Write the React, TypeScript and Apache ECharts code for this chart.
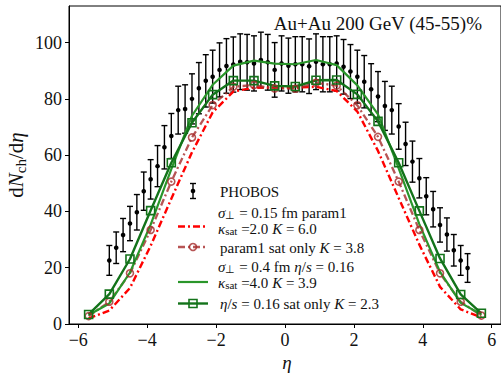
import React, { useEffect, useRef } from "react";
import * as echarts from "echarts";

// PHOBOS data (eta, dN/deta, error)
const PHOBOS_ETA = [
  -5.1, -4.9, -4.7, -4.5, -4.3, -4.1, -3.9, -3.7, -3.5, -3.3, -3.1, -2.9, -2.7, -2.5, -2.3, -2.1, -1.9, -1.7,
  -1.5, -1.3, -1.1, -0.9, -0.7, -0.5, -0.3, -0.1, 0.1, 0.3, 0.5, 0.7, 0.9, 1.1, 1.3, 1.5, 1.7, 1.9, 2.1, 2.3,
  2.5, 2.7, 2.9, 3.1, 3.3, 3.5, 3.7, 3.9, 4.1, 4.3, 4.5, 4.7, 4.9, 5.1, 5.3,
];
const PHOBOS = [
  22.6, 27.1, 31.6, 35.7, 39.7, 47.2, 51.4, 56.1, 62.8, 66.8, 76.0, 76.4, 80.0, 83.8, 86.4, 87.9, 90.3, 91.7,
  92.2, 93.2, 93.0, 92.6, 93.8, 93.0, 90.3, 92.6, 91.8, 92.3, 92.3, 91.6, 93.2, 92.3, 92.3, 92.6, 91.4, 89.7,
  87.9, 86.1, 83.4, 80.8, 77.5, 76.0, 70.2, 64.0, 57.7, 51.8, 45.4, 40.8, 35.2, 31.8, 26.2, 22.6, 19.9,
];
const PHOBOS_ERR = [
  5.3, 5.6, 5.9, 6.1, 6.3, 6.8, 7.0, 7.3, 7.7, 8.0, 8.5, 8.6, 8.9, 9.1, 9.3, 9.4, 9.6, 9.7,
  9.8, 9.9, 9.9, 9.8, 9.9, 9.9, 9.7, 9.8, 9.8, 9.8, 9.8, 9.7, 9.9, 9.8, 9.8, 9.8, 9.7, 9.6,
  9.4, 9.3, 9.1, 8.9, 8.7, 8.5, 8.1, 7.7, 7.3, 7.0, 6.6, 6.3, 6.1, 5.9, 5.6, 5.3, 5.1,
];

// Model curves
const MODEL_ETA = [-5.7, -5.1, -4.5, -3.9, -3.3, -2.7, -2.1, -1.5, -0.9, -0.3, 0.3, 0.9, 1.5, 2.1, 2.7, 3.3, 3.9, 4.5, 5.1, 5.7];
const PARAM1 = [2.0, 4.8, 12.8, 27.8, 44.5, 61.0, 75.2, 82.6, 84.0, 84.0, 84.0, 84.3, 82.8, 75.5, 61.5, 44.8, 28.2, 13.2, 5.2, 2.3];
const PARAM1_SAT = [2.8, 7.9, 18.0, 33.4, 50.6, 66.3, 77.8, 84.3, 84.9, 83.7, 83.6, 85.7, 84.7, 77.7, 66.5, 50.6, 33.4, 18.0, 7.9, 3.0];
const ETAS = [3.2, 7.3, 18.3, 35.3, 55.0, 74.0, 85.0, 91.8, 93.6, 92.5, 92.3, 93.8, 92.0, 84.8, 74.5, 55.3, 35.5, 18.5, 7.5, 3.4];
const ETAS_SAT = [3.4, 10.6, 23.1, 40.3, 57.3, 71.5, 81.5, 86.5, 86.5, 84.6, 84.4, 86.6, 86.7, 81.6, 72.0, 57.3, 40.2, 23.3, 10.5, 3.8];

const X_TICKS = [-6, -4, -2, 0, 2, 4, 6];
const Y_TICKS = [0, 20, 40, 60, 80, 100];
const TITLE = "Au+Au 200 GeV (45-55)%";

const SERIF = "Liberation Serif";
const RED = "#ff0000";
const BROWN = "rgba(165,42,42,0.8)";
const LGREEN = "#2a962a";
const DGREEN = "#13731a";
const DASHDOT = [7, 3, 2, 3];

const LFS = 15;
const LLH = 16;
const richBase = (fs: number, lh: number) => ({
  r: { fontFamily: SERIF, fontSize: fs, color: "#111", lineHeight: lh },
  i: { fontFamily: SERIF, fontSize: fs, fontStyle: "italic", color: "#111", lineHeight: lh },
  sub: { fontFamily: SERIF, fontSize: Math.round(fs * 0.7), color: "#111", verticalAlign: "bottom", lineHeight: Math.round(fs * 0.7) },
});

function legendText(x: number, y: number, text: string) {
  return {
    type: "text",
    x,
    y,
    style: {
      text,
      fontFamily: SERIF,
      fontSize: LFS,
      fill: "#111",
      textVerticalAlign: "middle",
      verticalAlign: "middle",
      lineHeight: LLH,
      rich: richBase(LFS, LLH),
    },
  };
}

export default function App() {
  const ref = useRef<HTMLDivElement>(null);
  useEffect(() => {
    if (!ref.current) return;
    const chart = echarts.init(ref.current, undefined, { renderer: "svg" });
    const fmt = (v: number) => (v < 0 ? "\u2212" + Math.abs(v) : String(v));
    const lineData = (arr: number[]) => MODEL_ETA.map((x, i) => [x, arr[i]]);
    const hx1 = 178, hx2 = 208, hxm = 193;
    const option: any = {
      animation: false,
      grid: { left: 69, top: 6, width: 434.5, height: 318, show: true, borderColor: "#000", borderWidth: 1, containLabel: false },
      xAxis: {
        type: "value",
        min: -6.27,
        max: 6.27,
        axisLine: { show: true, onZero: false, lineStyle: { color: "#000", width: 1 } },
        axisTick: { show: true, inside: false, length: 4, customValues: X_TICKS, lineStyle: { color: "#000" } },
        axisLabel: { customValues: X_TICKS, formatter: fmt, fontFamily: SERIF, fontSize: 18, color: "#111", margin: 7 },
        splitLine: { show: false },
      },
      yAxis: {
        type: "value",
        min: 0,
        max: 113,
        axisLine: { show: true, onZero: false, lineStyle: { color: "#000", width: 1 } },
        axisTick: { show: true, inside: false, length: 4, customValues: Y_TICKS, lineStyle: { color: "#000" } },
        axisLabel: { customValues: Y_TICKS, formatter: fmt, fontFamily: SERIF, fontSize: 18, color: "#111", margin: 7 },
        splitLine: { show: false },
      },
      series: [
        {
          type: "custom",
          silent: true,
          data: PHOBOS_ETA.map((x, i) => [x, PHOBOS[i], PHOBOS_ERR[i]]),
          encode: { x: 0, y: 1 },
          renderItem: (params: any, api: any) => {
            const x = api.value(0), y = api.value(1), e = api.value(2);
            const c = api.coord([x, y]);
            const t = api.coord([x, y + e]);
            const b = api.coord([x, y - e]);
            const st = { stroke: "#000", lineWidth: 1.4 };
            return {
              type: "group",
              children: [
                { type: "line", shape: { x1: c[0], y1: t[1], x2: c[0], y2: b[1] }, style: st },
                { type: "line", shape: { x1: c[0] - 3, y1: t[1], x2: c[0] + 3, y2: t[1] }, style: st },
                { type: "line", shape: { x1: c[0] - 3, y1: b[1], x2: c[0] + 3, y2: b[1] }, style: st },
                { type: "circle", shape: { cx: c[0], cy: c[1], r: 2.3 }, style: { fill: "#000" } },
              ],
            };
          },
        },
        {
          type: "line",
          silent: true,
          data: lineData(PARAM1),
          symbol: "none",
          lineStyle: { color: RED, width: 2.4, type: DASHDOT },
        },
        {
          type: "line",
          silent: true,
          data: lineData(PARAM1_SAT),
          symbol: "circle",
          symbolSize: 7,
          showSymbol: true,
          itemStyle: { color: "rgba(255,255,255,0)", borderColor: BROWN, borderWidth: 1.6 },
          lineStyle: { color: BROWN, width: 2.3, type: DASHDOT },
        },
        {
          type: "line",
          silent: true,
          data: lineData(ETAS),
          symbol: "none",
          lineStyle: { color: LGREEN, width: 2.2 },
        },
        {
          type: "line",
          silent: true,
          data: lineData(ETAS_SAT),
          symbol: "rect",
          symbolSize: 8,
          showSymbol: true,
          itemStyle: { color: "rgba(255,255,255,0)", borderColor: DGREEN, borderWidth: 1.6 },
          lineStyle: { color: DGREEN, width: 2.4 },
        },
      ],
      graphic: [
        {
          type: "text",
          x: 482,
          y: 23.5,
          style: { text: TITLE, fontFamily: SERIF, fontSize: 19, fill: "#111", textAlign: "right", textVerticalAlign: "middle", align: "right", verticalAlign: "middle" },
        },
        {
          type: "text",
          x: 287,
          y: 362,
          style: { text: "\u03b7", fontFamily: SERIF, fontSize: 19, fontStyle: "italic", fill: "#111", textAlign: "center", textVerticalAlign: "middle", align: "center", verticalAlign: "middle" },
        },
        {
          type: "text",
          x: 16,
          y: 165,
          rotation: Math.PI / 2,
          style: {
            text: "{r|d}{i|N}{sub|ch}{r|/d}{i|\u03b7}",
            fontFamily: SERIF,
            fontSize: 21,
            fill: "#111",
            align: "center",
            verticalAlign: "middle",
            textAlign: "center",
            textVerticalAlign: "middle",
            rich: richBase(21, 24),
          },
        },
        // Legend: PHOBOS
        { type: "line", shape: { x1: hxm, y1: 183.5, x2: hxm, y2: 198.5 }, style: { stroke: "#000", lineWidth: 1.4 } },
        { type: "line", shape: { x1: hxm - 3, y1: 183.5, x2: hxm + 3, y2: 183.5 }, style: { stroke: "#000", lineWidth: 1.4 } },
        { type: "line", shape: { x1: hxm - 3, y1: 198.5, x2: hxm + 3, y2: 198.5 }, style: { stroke: "#000", lineWidth: 1.4 } },
        { type: "circle", shape: { cx: hxm, cy: 191, r: 2.3 }, style: { fill: "#000" } },
        legendText(220, 191.5, "{r|PHOBOS}"),
        // red
        { type: "line", shape: { x1: hx1, y1: 226.5, x2: hx2, y2: 226.5 }, style: { stroke: RED, lineWidth: 2.4, lineDash: DASHDOT } },
        legendText(218, 220.5, "{i|\u03c3}{sub|\u22a5}{r| = 0.15 fm param1}\n{i|\u03ba}{sub|sat}{r| =2.0 }{i|K}{r| = 6.0}"),
        // brown
        { type: "line", shape: { x1: hx1, y1: 247, x2: hx2, y2: 247 }, style: { stroke: BROWN, lineWidth: 2.3, lineDash: DASHDOT } },
        { type: "circle", shape: { cx: hxm, cy: 247, r: 3.5 }, style: { fill: "rgba(255,255,255,0)", stroke: BROWN, lineWidth: 1.6 } },
        legendText(220, 247.5, "{r|param1 sat only }{i|K}{r| = 3.8}"),
        // light green
        { type: "line", shape: { x1: hx1, y1: 282, x2: hx2, y2: 282 }, style: { stroke: LGREEN, lineWidth: 2.2 } },
        legendText(218, 274.5, "{i|\u03c3}{sub|\u22a5}{r| = 0.4 fm }{i|\u03b7}{r|/}{i|s}{r| = 0.16}\n{i|\u03ba}{sub|sat}{r| =4.0 }{i|K}{r| = 3.9}"),
        // dark green
        { type: "line", shape: { x1: hx1, y1: 303.5, x2: hx2, y2: 303.5 }, style: { stroke: DGREEN, lineWidth: 2.4 } },
        { type: "rect", shape: { x: hxm - 4, y: 299.5, width: 8, height: 8 }, style: { fill: "rgba(255,255,255,0)", stroke: DGREEN, lineWidth: 1.6 } },
        legendText(220, 303.5, "{i|\u03b7}{r|/}{i|s}{r| = 0.16 sat only }{i|K}{r| = 2.3}"),
      ],
    };
    chart.setOption(option);
    return () => chart.dispose();
  }, []);
  return <div ref={ref} style={{ position: "absolute", left: 0, top: 0, width: 501, height: 373 }} />;
}
